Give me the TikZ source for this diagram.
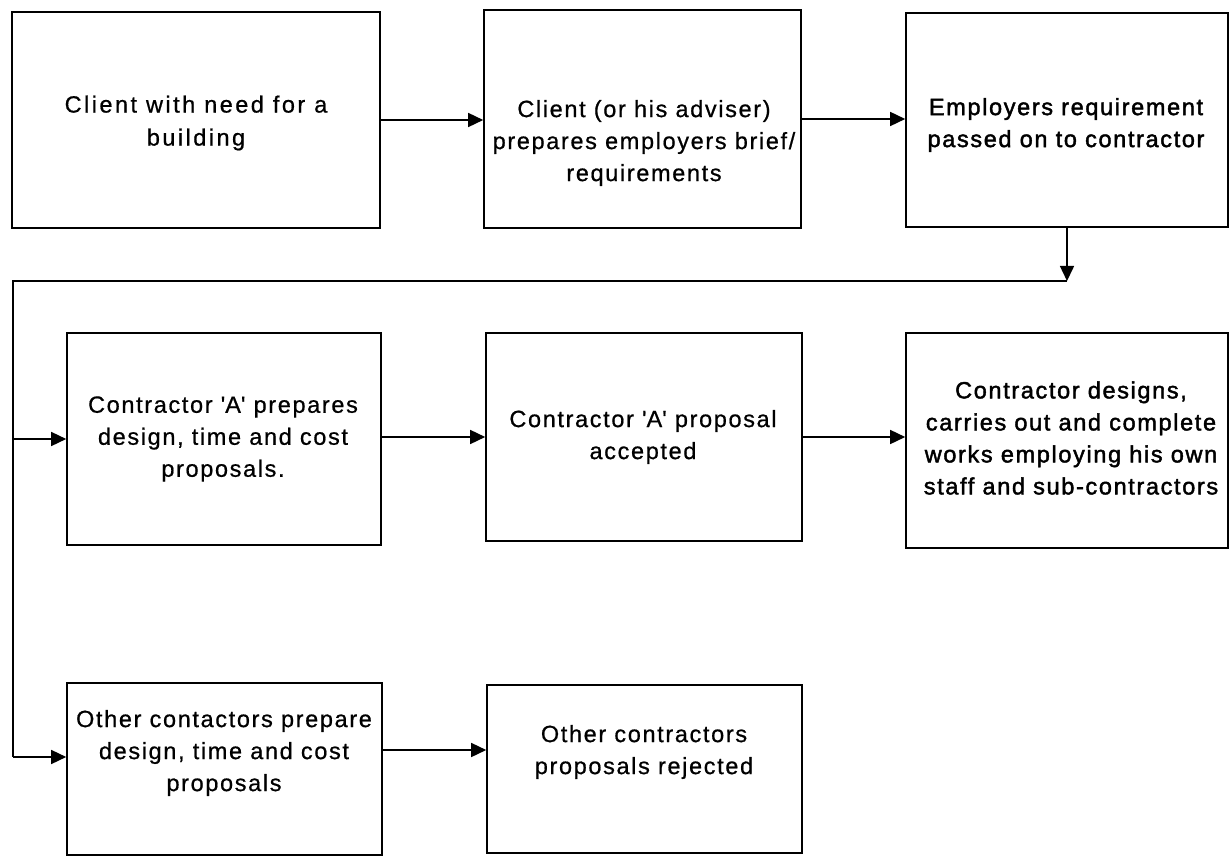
\documentclass[tikz,border=0pt]{standalone}
\usepackage{fontspec}
\setmainfont{Liberation Sans}[LetterSpace=7,FakeBold=0.7]
\newfontfamily\heavyface{Liberation Sans}[LetterSpace=7,FakeBold=1.8]
\newfontfamily\wideface{Liberation Sans}[LetterSpace=10.5,FakeBold=0.7]
\newcommand{\sq}{\textquotesingle}
\usetikzlibrary{arrows.meta}
\begin{document}
\begin{tikzpicture}[x=1pt,y=-1pt,
  box/.style={draw,line width=1.6pt,rectangle,inner sep=0pt},
  label/.style={align=center,inner sep=0pt,font=\fontsize{23.5}{32}\selectfont},
  heavy/.style={label,font=\fontsize{23.5}{32}\heavyface},
  wide/.style={label,font=\fontsize{23.5}{33}\wideface},
  link/.style={line width=1.5pt},
  arr/.style={link,-{Triangle[length=15pt,width=14pt]}}]
\useasboundingbox (0,0) rectangle (1230,858);

% process boxes
\node[box,minimum width=368pt,minimum height=216pt] (b1) at (196,120) {};
\node[box,minimum width=317pt,minimum height=218pt] (b2) at (642.5,119) {};
\node[box,minimum width=322pt,minimum height=214pt] (b3) at (1067,120) {};
\node[box,minimum width=314pt,minimum height=212pt] (b4) at (224,439) {};
\node[box,minimum width=316pt,minimum height=208pt] (b5) at (644,437) {};
\node[box,minimum width=322pt,minimum height=215pt] (b6) at (1067,440.5) {};
\node[box,minimum width=315pt,minimum height=172pt] (b7) at (224.5,769) {};
\node[box,minimum width=315pt,minimum height=168pt] (b8) at (644.5,769) {};

% box texts
\node[wide] (t1) at (196,123) {Client with need for a\\building};
\node[label] (t2) at (644,143) {Client (or his adviser)\\prepares employers brief/\\requirements};
\node[heavy] (t3) at (1066,125) {Employers requirement\\passed on to contractor};
\node[label] (t4) at (223,439) {Contractor \sq A\sq{} prepares\\design, time and cost\\proposals.};
\node[label] (t5) at (643,437) {Contractor \sq A\sq{} proposal\\accepted};
\node[heavy] (t6) at (1071,438) {Contractor designs,\\carries out and complete\\works employing his own\\staff and sub-contractors};
\node[label] (t7) at (224,753) {Other contactors prepare\\design, time and cost\\proposals};
\node[label] (t8) at (644,752) {Other contractors\\proposals rejected};

% connectors
\coordinate (trunk) at (13,281);
\coordinate (trunkend) at (13,757);
\coordinate (m78) at ([yshift=19pt]b7.east);

\draw[arr] (b1.east) -- (b1.east -| b2.west);
\draw[arr] (b2.east) -- (b2.east -| b3.west);
\draw[arr] (b3.south) -- (b3.south |- trunk);
\draw[link] (b3.south |- trunk) -- (trunk) -- (trunkend);
\draw[arr] (trunk |- b4.west) -- (b4.west);
\draw[arr] (trunkend) -- (trunkend -| b7.west);
\draw[arr] (b4.east |- b5.west) -- (b5.west);
\draw[arr] (b5.east) -- (b5.east -| b6.west);
\draw[arr] (m78) -- (m78 -| b8.west);
\end{tikzpicture}
\end{document}
